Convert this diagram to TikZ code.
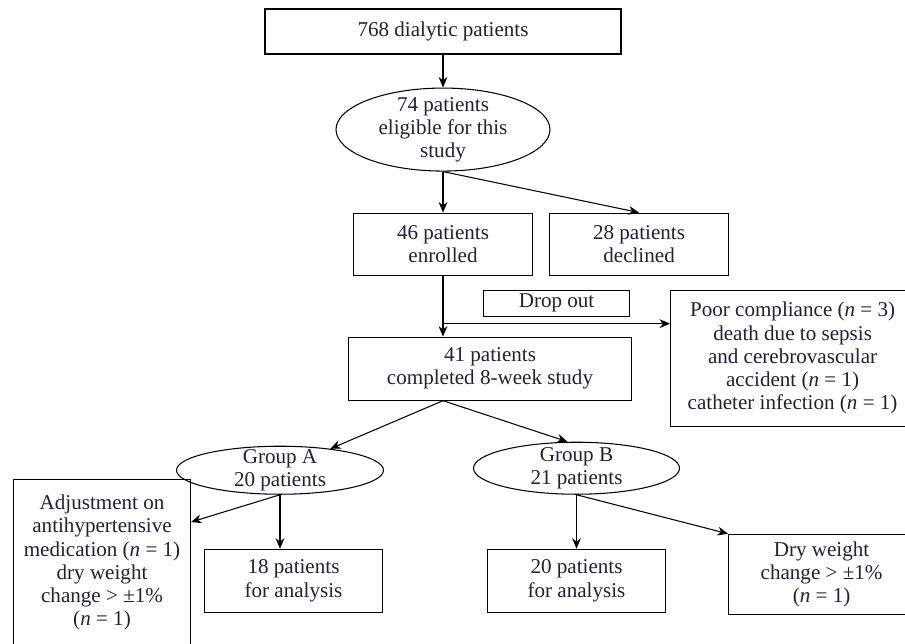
\documentclass[tikz,border=0pt]{standalone}
\usepackage{fontspec}
\setmainfont{Liberation Serif}
\usetikzlibrary{shapes.geometric,arrows.meta,positioning,calc}
\definecolor{inkblue}{RGB}{32,32,56}

\begin{document}
\begin{tikzpicture}[node distance=0.8cm, line width=0.6pt,
  every node/.style={text=inkblue, font=\fontsize{12}{13.2}\selectfont, align=center},
  box/.style={rectangle, draw, inner sep=2pt},
  oval/.style={ellipse, draw, inner xsep=0pt, inner ysep=-3pt},
  arrow/.style={-{Stealth[length=6pt,width=5pt]}}]
  \useasboundingbox (0,0) rectangle (18.1,-12.86);
  \node[box, minimum width=7.12cm, minimum height=0.9cm] (top) at (8.86,-0.63) {768 dialytic patients};
  \node[oval, below=0.66cm of top, minimum width=4.28cm, minimum height=1.66cm] (elig) {74 patients\\eligible for this\\study};
  \node[box, below=0.82cm of elig, minimum width=3.58cm, minimum height=1.24cm] (enrolled) {46 patients\\enrolled};
  \node[box, right=0.32cm of enrolled, minimum width=3.58cm, minimum height=1.24cm] (declined) {28 patients\\declined};
  \node[box, below=0.28cm of declined, xshift=-1.65cm, minimum width=2.92cm, minimum height=0.52cm] (dropout) {Drop out};
  \node[box, right=0.8cm of dropout.north east, anchor=north west, minimum width=4.88cm, minimum height=2.72cm] (poor) {Poor compliance (\textit{n} = 3)\\death due to sepsis\\and cerebrovascular\\accident (\textit{n} = 1)\\catheter infection (\textit{n} = 1)};
  \node[box, below=1.22cm of enrolled, xshift=0.94cm, minimum width=5.66cm, minimum height=1.26cm] (completed) {41 patients\\completed 8-week study};
  \node[oval, below=0.9cm of completed, xshift=-4.2cm, minimum width=4.14cm, minimum height=0.96cm] (groupA) {Group A\\20 patients};
  \node[oval, below=0.82cm of completed, xshift=1.73cm, minimum width=4.12cm, minimum height=1.04cm] (groupB) {Group B\\21 patients};
  \node[box, below=1.08cm of groupA, xshift=0.27cm, minimum width=3.56cm, minimum height=1.26cm] (a18) {18 patients\\for analysis};
  \node[box, below=1.08cm of groupB, minimum width=3.56cm, minimum height=1.26cm] (b20) {20 patients\\for analysis};
  \node[box, anchor=north west, minimum width=3.54cm, minimum height=3.32cm] (adjust) at (0.26,-9.58) {Adjustment on\\antihypertensive\\medication (\textit{n} = 1)\\dry weight\\change > ±1\%\\(\textit{n} = 1)};
  \node[box, right=1.24cm of b20.north east, anchor=north west, yshift=0.3cm, minimum width=3.72cm, minimum height=1.6cm] (dry) {Dry weight\\change > ±1\%\\(\textit{n} = 1)};
  \coordinate[below=0.96cm of enrolled.south] (split);
  \coordinate (fork) at (completed.south -| enrolled.south);
  \draw[arrow] (top) -- (elig);
  \draw[arrow] (elig) -- (enrolled);
  \draw[arrow] (elig.south) -- (declined.north);
  \draw[arrow] (enrolled) -- (enrolled.south |- completed.north);
  \draw[arrow] (split) -- (split -| poor.west);
  \draw[arrow] (fork) -- (groupA);
  \draw[arrow] (fork) -- ([xshift=-0.18cm]groupB.north);
  \draw[arrow] (groupA.south) -- (groupA.south |- a18.north);
  \draw[arrow] (groupA.south) -- ([yshift=-0.86cm]adjust.north east);
  \draw[arrow] (groupB) -- (b20);
  \draw[arrow] (groupB.south) -- (dry.north west);
\end{tikzpicture}
\end{document}
